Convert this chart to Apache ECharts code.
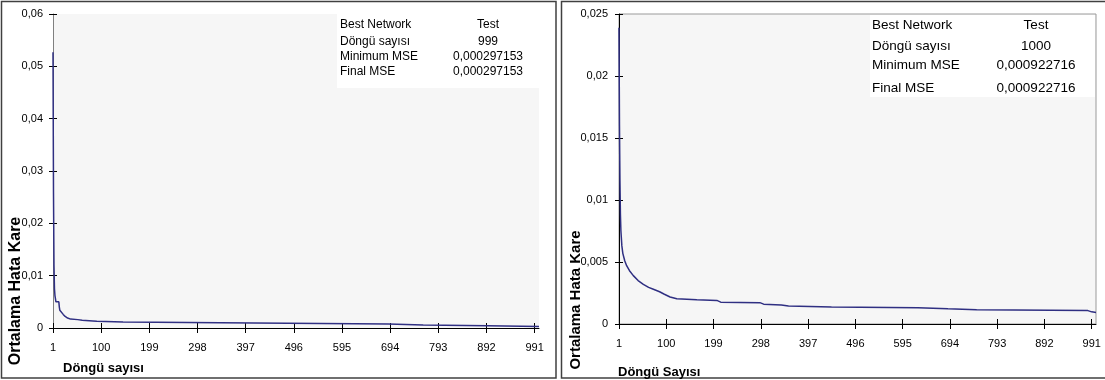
<!DOCTYPE html>
<html><head><meta charset="utf-8">
<script src="https://cdn.jsdelivr.net/npm/echarts@6/dist/echarts.min.js"></script>
<style>html,body{margin:0;padding:0;background:#fff}#c{width:1105px;height:380px}</style>
</head><body><div id="c"></div>
<script>
// ---- data ----
var epochCount = 1000;
var categories = [];
for (var k = 1; k <= epochCount; k++) categories.push(String(k));

// left chart: epoch (1-based) where the curve bends, and MSE there
var leftEpochs = [1, 2, 3, 4, 5, 6, 7, 13, 14, 15, 19, 22, 26, 31, 37, 52, 61, 83, 91, 145, 149, 345, 349, 690, 694, 762, 766, 894, 898, 1000];
var leftMSE = [0.0527, 0.026, 0.012, 0.0075, 0.0062, 0.0056, 0.0050, 0.0050, 0.0040, 0.0034, 0.0031, 0.0026, 0.0022, 0.0019, 0.0017, 0.0016, 0.00148, 0.00135, 0.0013, 0.00115, 0.00102, 0.00101, 0.00077, 0.00076, 0.00058, 0.00057, 0.00045, 0.00044, 0.00030, 0.000297];

// right chart
var rightEpochs = [1, 2, 3, 4, 5, 7, 9, 13, 17, 23, 31, 41, 52, 63, 73, 86, 96, 108, 122, 164, 206, 214, 296, 304, 341, 356, 446, 627, 631, 690, 694, 750, 754, 983, 991, 1000];
var rightMSE = [0.0239, 0.016, 0.0115, 0.0088, 0.0075, 0.0063, 0.0057, 0.0051, 0.0047, 0.0043, 0.0039, 0.0035, 0.0032, 0.00295, 0.0028, 0.0026, 0.0024, 0.00218, 0.00204, 0.00195, 0.0019, 0.00176, 0.00172, 0.0016, 0.00153, 0.00145, 0.00138, 0.00131, 0.00124, 0.00122, 0.00117, 0.00115, 0.0011, 0.00108, 0.00098, 0.00093];

var leftYTicks = {min: 0, max: 0.06, interval: 0.01};
var rightYTicks = {min: 0, max: 0.025, interval: 0.005};

var leftBoxLabels = ['Best Network', 'Döngü sayısı', 'Minimum MSE', 'Final MSE'];
var leftBoxValues = ['Test', '999', '0,000297153', '0,000297153'];
var rightBoxLabels = ['Best Network', 'Döngü sayısı', 'Minimum MSE', 'Final MSE'];
var rightBoxValues = ['Test', '1000', '0,000922716', '0,000922716'];

var yTitle = 'Ortalama Hata Kare';
var leftXTitle = 'Döngü sayısı';
var rightXTitle = 'Döngü Sayısı';

// ---- chart ----
var ARIAL = "'Liberation Sans', Arial, sans-serif";
var LINE = '#2f2f82';

function pairs(ep, v) { return ep.map(function (e, i) { return [e - 1, v[i]]; }); }
function fmt(v) { return v === 0 ? '0' : String(+v.toFixed(4)).replace('.', ','); }

function xAxes(gi) {
  return [
    {type: 'category', gridIndex: gi, data: categories, boundaryGap: false, position: 'bottom',
     axisLine: {lineStyle: {color: '#000', width: 1}},
     axisTick: {interval: 98, length: 5, lineStyle: {color: '#000'}},
     axisLabel: {interval: 98, margin: 14, color: '#000', fontSize: 11, fontFamily: ARIAL},
     splitLine: {show: false}},
    {type: 'category', gridIndex: gi, data: categories, boundaryGap: false, position: 'bottom',
     axisLine: {show: false},
     axisTick: {interval: 98, inside: true, length: 5, lineStyle: {color: '#000'}},
     axisLabel: {show: false}, splitLine: {show: false}}
  ];
}
function yAxes(gi, t, axColor, m) {
  return [
    {type: 'value', gridIndex: gi, min: t.min, max: t.max, interval: t.interval, position: 'left',
     axisLine: {show: true, lineStyle: {color: axColor, width: 1}},
     axisTick: {show: true, length: 4, lineStyle: {color: '#000'}},
     axisLabel: {formatter: fmt, margin: m, color: '#000', fontSize: 11, fontFamily: ARIAL},
     splitLine: {show: false}},
    {type: 'value', gridIndex: gi, min: t.min, max: t.max, interval: t.interval, position: 'left',
     axisLine: {show: false},
     axisTick: {show: true, inside: true, length: 4, lineStyle: {color: '#000'}},
     axisLabel: {show: false}, splitLine: {show: false}}
  ];
}

function boxTexts(x0, xv, ys, labels, values, fs) {
  var out = [];
  labels.forEach(function (l, i) {
    out.push({type: 'text', z: 10, style: {text: l, x: x0, y: ys[i], font: fs + 'px ' + ARIAL, fill: '#000', verticalAlign: 'middle', align: 'left'}});
    out.push({type: 'text', z: 10, style: {text: values[i], x: xv, y: ys[i], font: fs + 'px ' + ARIAL, fill: '#000', verticalAlign: 'middle', align: 'center'}});
  });
  return out;
}

var graphics = [
  {type: 'rect', z: -10, shape: {x: 1.5, y: 1.5, width: 554.5, height: 376.5}, style: {fill: 'none', stroke: '#404040', lineWidth: 1.5}},
  {type: 'rect', z: -10, shape: {x: 561.5, y: 1.5, width: 550, height: 376.5}, style: {fill: 'none', stroke: '#404040', lineWidth: 1.5}},
  {type: 'rect', z: 1, shape: {x: 337, y: 14, width: 202, height: 74}, style: {fill: '#ffffff'}},
  {type: 'rect', z: 1, shape: {x: 870, y: 15, width: 225, height: 82}, style: {fill: '#ffffff'}},
  {type: 'text', z: 10, rotation: Math.PI / 2, x: 16, y: 291,
   style: {text: yTitle, font: 'bold 16px ' + ARIAL, fill: '#000', align: 'center', verticalAlign: 'middle'}},
  {type: 'text', z: 10, rotation: Math.PI / 2, x: 576, y: 300,
   style: {text: yTitle, font: 'bold 15px ' + ARIAL, fill: '#000', align: 'center', verticalAlign: 'middle'}},
  {type: 'text', z: 10, style: {text: leftXTitle, x: 63, y: 368, font: 'bold 13px ' + ARIAL, fill: '#000', verticalAlign: 'middle'}},
  {type: 'text', z: 10, style: {text: rightXTitle, x: 618, y: 372, font: 'bold 13px ' + ARIAL, fill: '#000', verticalAlign: 'middle'}}
].concat(boxTexts(340, 488, [25, 42, 57, 72], leftBoxLabels, leftBoxValues, 12))
 .concat(boxTexts(872, 1036, [25, 46, 65, 88], rightBoxLabels, rightBoxValues, 13.5));

var chart = echarts.init(document.getElementById('c'), null, {renderer: 'canvas'});
chart.setOption({
  animation: false,
  backgroundColor: '#ffffff',
  grid: [
    {left: 53, top: 14, width: 486, height: 314, show: true, backgroundColor: '#f6f6f6', borderWidth: 0},
    {left: 619, top: 14, width: 477, height: 310, show: true, backgroundColor: '#f6f6f6', borderColor: '#9a9a9a', borderWidth: 1}
  ],
  xAxis: xAxes(0).concat(xAxes(1)),
  yAxis: yAxes(0, leftYTicks, '#808080', 10).concat(yAxes(1, rightYTicks, '#000', 11)),
  series: [
    {type: 'line', xAxisIndex: 0, yAxisIndex: 0, data: pairs(leftEpochs, leftMSE), showSymbol: false, z: 5,
     lineStyle: {color: LINE, width: 1.5}},
    {type: 'line', xAxisIndex: 2, yAxisIndex: 2, data: pairs(rightEpochs, rightMSE), showSymbol: false, z: 5,
     lineStyle: {color: LINE, width: 1.5}}
  ],
  graphic: graphics
});
</script></body></html>
